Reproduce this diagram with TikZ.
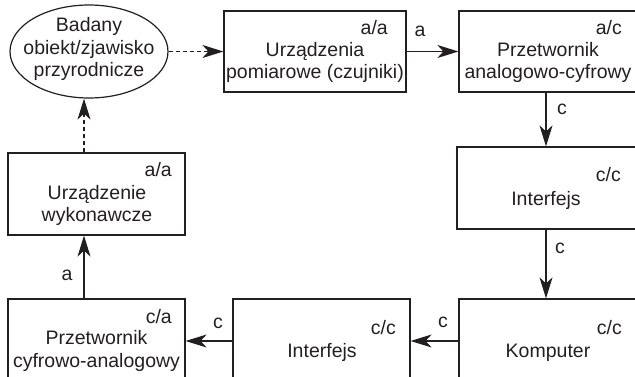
\documentclass[tikz,border=0pt]{standalone}
\usepackage{fontspec}
\setmainfont{Liberation Sans}
\usetikzlibrary{arrows.meta,calc,shapes.geometric}
\definecolor{ink}{HTML}{231F20}
\begin{document}
\begin{tikzpicture}[x=1pt,y=-1pt,
  box/.style={draw=ink, line width=1.2pt, inner sep=0pt, minimum width=182pt, minimum height=81pt},
  txt/.style={font=\fontsize{19.5}{22.5}\selectfont, text=ink, align=center, inner sep=0pt, anchor=base},
  tag/.style={font=\fontsize{19.5}{22.5}\selectfont, text=ink, inner sep=0pt, anchor=base east},
  lab/.style={font=\fontsize{19.5}{22.5}\selectfont, text=ink, inner sep=0pt, anchor=base},
  conn/.style={draw=ink, line width=1.2pt, -{Stealth[length=21pt,width=13pt,inset=6pt]}},
  dashconn/.style={conn, dash pattern=on 4pt off 3pt}]
\useasboundingbox (0,0) rectangle (635,377);
\clip (0,0) rectangle (635,377);
% nodes
\node[draw=ink, line width=1.2pt, ellipse, minimum width=158pt, minimum height=93pt, inner sep=0pt] (obj) at (89,51.5) {};
\node[txt] (objt) at (89,77) {Badany\\obiekt/zjawisko\\przyrodnicze};

\node[box] (b1) at (315,51.5) {};
\node[txt] (b1t) at (315,79) {Urządzenia\\pomiarowe (czujniki)};
\node[tag] (b1g) at (388,35) {a/a};

\node[box] (b2) at (550,51.5) {};
\node[txt] (b2t) at (548,79) {Przetwornik\\analogowo-cyfrowy};
\node[tag] (b2g) at (622,35) {a/c};

\node[box, minimum height=82pt] (if1) at (548,188) {};
\node[txt] (if1t) at (546,205) {Interfejs};
\node[tag] (if1g) at (621,182) {c/c};

\node[box, minimum height=120pt] (komp) at (550,359) {};
\node[txt] (kompt) at (548,357) {Komputer};
\node[tag] (kompg) at (622,334) {c/c};

\node[box, minimum width=177pt, minimum height=120pt] (if2) at (321.5,359) {};
\node[txt] (if2t) at (322,357) {Interfejs};
\node[tag] (if2g) at (396,334) {c/c};

\node[box, minimum width=177pt, minimum height=120pt] (ca) at (96.5,359) {};
\node[txt] (cat) at (96.5,367) {Przetwornik\\cyfrowo-analogowy};
\node[tag] (cag) at (172,323) {c/a};

\node[box, minimum width=177pt, minimum height=82pt] (wyk) at (96.5,194) {};
\node[txt] (wykt) at (97,222) {Urządzenie\\wykonawcze};
\node[tag] (wykg) at (172,177) {a/a};

% connectors
\draw[dashconn] (obj.east) -- (b1.west);
\draw[conn] (b1.east) -- (b2.west);
\draw[conn] ([xshift=-4pt]b2.south) -- ([xshift=-2pt]if1.north);
\draw[conn] ([xshift=-2pt]if1.south) -- ([xshift=-4pt]komp.north);
\draw[conn] ([yshift=18pt]komp.west) -- ([yshift=18pt]if2.east);
\draw[conn] ([yshift=18pt]if2.west) -- ([yshift=18pt]ca.east);
\draw[conn] ([xshift=-12.5pt]ca.north) -- ([xshift=-12.5pt]wyk.south);
\draw[dashconn] ([xshift=-12.5pt]wyk.north) -- ([xshift=-5pt]obj.south);

% connector labels
\node[lab] (la1) at (420,37) {a};
\node[lab] (lc1) at (562,115) {c};
\node[lab] (lc2) at (560,253) {c};
\node[lab] (lc3) at (443,327) {c};
\node[lab] (lc4) at (218,328) {c};
\node[lab] (la2) at (67,280) {a};
\end{tikzpicture}
\end{document}
